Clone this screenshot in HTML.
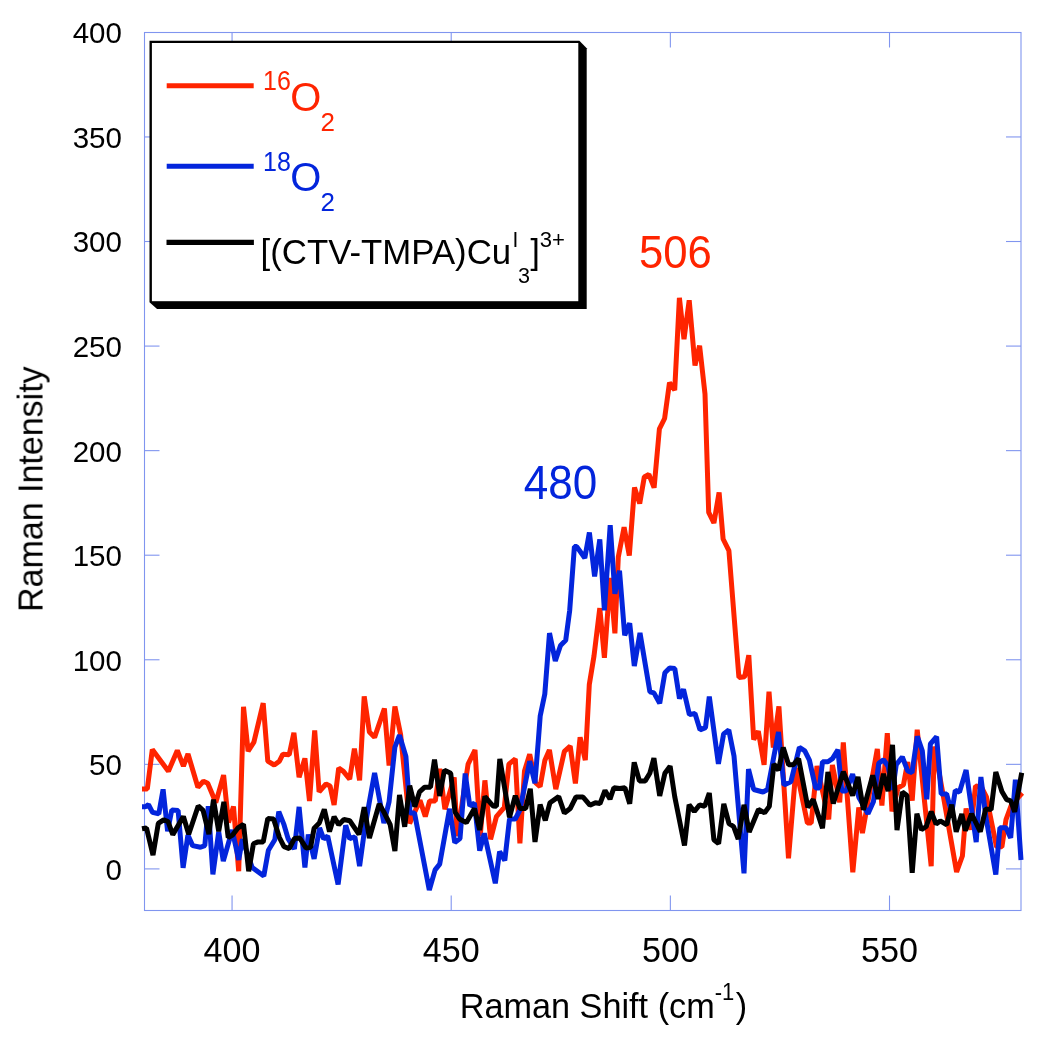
<!DOCTYPE html>
<html><head><meta charset="utf-8"><style>
html,body{margin:0;padding:0;background:#fff;}
svg{display:block;}
text{font-family:"Liberation Sans",sans-serif;will-change:transform;}
</style></head><body>
<svg width="1050" height="1037" viewBox="0 0 1050 1037">
<rect x="0" y="0" width="1050" height="1037" fill="#fff"/>
<g stroke="#8095ef" stroke-width="1.1" fill="none">
<rect x="144.5" y="32.5" width="876.5" height="878.0"/>
<line x1="232.06" y1="910.5" x2="232.06" y2="895.5"/><line x1="232.06" y1="32.5" x2="232.06" y2="47.5"/><line x1="451.21" y1="910.5" x2="451.21" y2="895.5"/><line x1="451.21" y1="32.5" x2="451.21" y2="47.5"/><line x1="670.36" y1="910.5" x2="670.36" y2="895.5"/><line x1="670.36" y1="32.5" x2="670.36" y2="47.5"/><line x1="889.51" y1="910.5" x2="889.51" y2="895.5"/><line x1="889.51" y1="32.5" x2="889.51" y2="47.5"/><line x1="144.5" y1="868.90" x2="159.5" y2="868.90"/><line x1="1021.0" y1="868.90" x2="1006.0" y2="868.90"/><line x1="144.5" y1="764.34" x2="159.5" y2="764.34"/><line x1="1021.0" y1="764.34" x2="1006.0" y2="764.34"/><line x1="144.5" y1="659.77" x2="159.5" y2="659.77"/><line x1="1021.0" y1="659.77" x2="1006.0" y2="659.77"/><line x1="144.5" y1="555.20" x2="159.5" y2="555.20"/><line x1="1021.0" y1="555.20" x2="1006.0" y2="555.20"/><line x1="144.5" y1="450.64" x2="159.5" y2="450.64"/><line x1="1021.0" y1="450.64" x2="1006.0" y2="450.64"/><line x1="144.5" y1="346.08" x2="159.5" y2="346.08"/><line x1="1021.0" y1="346.08" x2="1006.0" y2="346.08"/><line x1="144.5" y1="241.51" x2="159.5" y2="241.51"/><line x1="1021.0" y1="241.51" x2="1006.0" y2="241.51"/><line x1="144.5" y1="136.95" x2="159.5" y2="136.95"/><line x1="1021.0" y1="136.95" x2="1006.0" y2="136.95"/>
</g>
<text transform="translate(121.90,879.80) scale(1,1.03)" font-size="29.5" fill="#000" text-anchor="end">0</text><text transform="translate(121.90,775.24) scale(1,1.03)" font-size="29.5" fill="#000" text-anchor="end">50</text><text transform="translate(121.90,670.67) scale(1,1.03)" font-size="29.5" fill="#000" text-anchor="end">100</text><text transform="translate(121.90,566.10) scale(1,1.03)" font-size="29.5" fill="#000" text-anchor="end">150</text><text transform="translate(121.90,461.54) scale(1,1.03)" font-size="29.5" fill="#000" text-anchor="end">200</text><text transform="translate(121.90,356.98) scale(1,1.03)" font-size="29.5" fill="#000" text-anchor="end">250</text><text transform="translate(121.90,252.41) scale(1,1.03)" font-size="29.5" fill="#000" text-anchor="end">300</text><text transform="translate(121.90,147.85) scale(1,1.03)" font-size="29.5" fill="#000" text-anchor="end">350</text><text transform="translate(121.90,43.28) scale(1,1.03)" font-size="29.5" fill="#000" text-anchor="end">400</text>
<text transform="translate(232.06,961.80) scale(1,1.05)" font-size="34.1" fill="#000" text-anchor="middle">400</text><text transform="translate(451.21,961.80) scale(1,1.05)" font-size="34.1" fill="#000" text-anchor="middle">450</text><text transform="translate(670.36,961.80) scale(1,1.05)" font-size="34.1" fill="#000" text-anchor="middle">500</text><text transform="translate(889.51,961.80) scale(1,1.05)" font-size="34.1" fill="#000" text-anchor="middle">550</text>
<text transform="translate(459.70,1017.90) scale(1,1.05)" font-size="34.25" fill="#000">Raman Shift (cm<tspan font-size="22" dy="-17.3">-1</tspan><tspan dy="17.3" dx="1.4">)</tspan></text><text transform="translate(42.30,611.90) rotate(-90) scale(1,1.055)" font-size="34" fill="#000">Raman Intensity</text><text transform="translate(639.00,267.70) scale(1,1.07)" font-size="43.7" fill="#ff2400">506</text><text transform="translate(523.70,499.30) scale(1,1.07)" font-size="44.1" fill="#0325dc">480</text>
<g fill="none" stroke-width="5" stroke-linejoin="bevel" stroke-linecap="butt">
<polyline stroke="#ff2400" points="142,789 147.3,789 152.3,749.572 168.4,771.328 177.3,750.484 183.4,766.092 188,754.008 197.9,787.283 203.4,781.206 207.7,783.2 215.8,802.569 223.6,775.064 228.5,822.603 233.5,806.397 238.7,871.288 243.5,706.878 248.1,751.245 253.9,742.1 263.2,703.108 267.8,761.2 274.2,765.007 279.4,761.2 282.9,754.189 289.2,754.811 293.9,732.667 299.1,777.229 304.9,758.371 309.5,801.006 314.7,730.496 319.1,791.832 326,784.001 330,785.9 334.1,804.917 338.7,768.128 343.4,771.4 349.7,779.228 354.4,748.56 359.6,780.44 364.2,696.382 369.4,732.1 374.6,737.328 384.4,708.464 389.1,765.537 394.9,706.435 400.6,734.4 409.6,823.365 420,800.235 425.3,816.581 429.6,801 435.3,801 439.7,768.863 444.9,809.222 454.2,777.378 457.1,836.111 468.1,764.1 475,749.986 480.2,836.272 484.9,780.358 490.6,839.331 496.4,816.6 504.3,807.4 508.9,764.1 515.3,758.915 519.9,843.336 524.5,771 529.7,754.319 535.5,782.6 540.1,786.61 544.8,760.6 549.4,749.908 555.8,789.118 564.4,751.3 570.2,746.159 575.4,783.529 580.1,737.357 585.3,760.143 589.3,684.5 594,656 599.8,608.115 604.4,657.747 610.2,577.93 614.9,633.37 618.3,557 624.1,527.323 629.3,555.577 634.5,487.541 639.7,503.459 644.3,477 648.9,474.436 654.1,487.67 659.4,428.9 664.6,418.5 669.5,382.569 674.7,390.031 679.4,297.808 684,339.229 689.2,300.271 695,365.517 699.6,345.683 705,394 708.7,512.4 713.9,522.98 719.1,492.469 723.1,539 728.9,550.6 738.9,677.413 744.7,676.8 748.8,655.109 753.7,739.641 758.3,731.159 764.1,764.936 769,691.708 773.3,747.626 778.9,706.374 788.5,858.283 796,768.026 807.4,823 811.2,823 817,766.075 828.7,819.425 832.4,765.034 839.7,802.366 843.3,742.389 852.8,872.253 858.8,807.413 862.4,833.042 877.3,748.958 881.9,805.581 887.3,733.098 892,811.323 898.1,787.8 903.5,784.8 907.7,761.995 912.2,800.677 917.2,729.764 931.2,866.236 934.3,746.466 943.5,797 956.6,871.966 962.4,856 966.1,808.448 970.8,829.652 975.5,785.945 981.6,787.3 986.4,796.8 996.5,846.8 1001.9,846.8 1006,819.7 1011.4,804.9 1022.2,793"/>
<polyline stroke="#0325dc" points="142,806.8 145.5,806.8 148.5,804.644 152.5,812.3 158.8,813.868 163.1,789.371 167.6,831.271 171.8,809.892 178.1,810.4 183.1,867.896 187.9,835.147 192.6,845.6 200.5,847.25 204.8,845.6 208.3,806.235 212.9,874.325 218.7,831.946 223.3,861.135 232.2,829.965 238.7,859.9 242.4,839.264 252.2,867.5 263.8,876.05 268.4,850.2 274.8,839.8 278.8,811.623 284,824.7 288.1,838.6 294.4,848.998 299.1,806.901 304.9,867.408 308.3,834.471 314.1,858.929 319.6,827.918 323.7,838.933 327.7,835.967 338.1,884.552 345.7,825.315 349.7,838.724 354.9,836.776 359.6,866.174 364.8,828.2 369.4,801.6 374.6,772.891 383.9,823.162 389.1,801.6 394.9,747.1 399.5,735.211 405.9,756.4 410,813 414.5,813 429.3,890.152 435.1,869.9 439.7,864.1 449.6,808.757 454.8,842.526 460,838.6 465.2,773.478 469.8,805.964 474.4,803.136 479.7,850.715 484.3,833.385 495.3,883.322 499.6,851.505 504.8,860.395 509.5,819 515.3,819 519.9,810 529.7,761.18 534.9,783.22 538.4,739.8 540.2,716 544.8,694 549.5,633.078 555.3,661.024 560.5,645.5 565.7,640.3 569.7,610.3 574.4,546.6 576.7,546.6 584.8,557.964 589.4,532.501 594.6,576.511 599.8,539.289 604.4,610.32 610.2,525.182 614.9,593.715 619.5,570.785 624.7,635.326 629.7,623.274 634.3,666.018 640,632.982 649.9,691.8 653.9,692.9 659.7,703.377 664.9,672.7 669.6,667.984 674.8,668.6 679.5,698.532 683.5,689.268 689.4,714.647 695,713.453 700,729.864 705.5,727.6 709.3,696.557 718.4,763.84 723.6,734 728.8,730.074 734,756 744,873.283 748.5,769.176 753.7,789.5 763,791.979 767.6,789.5 778.5,731.881 783.9,785.014 790.9,781.7 799.4,747.468 804.8,750.9 809.4,760.1 815.6,787.9 819.4,787.9 822.5,761.7 827.9,761.7 832.5,758.6 837.9,749.835 841.8,791 846,791 852.6,774.085 858.8,797.2 868,813.818 873.4,801.8 878.8,763.2 883.5,759.687 888.1,766.3 892.7,789.879 896.2,764.8 902.3,756.942 907.7,770.9 912,772.539 917.3,736.41 922.3,750.8 926.8,799.358 930.4,743.9 936.6,736.739 941.2,794 946.6,794 951.7,812.885 955.3,790.354 959.5,792.146 966.1,770.076 976.2,842.134 980.9,777.026 985.7,815.7 995.8,874.462 999.9,827.8 1006,827.8 1010.7,837.922 1015.4,779.614 1021,860"/>
<polyline stroke="#000" points="142,828.8 146.5,827.961 153,855.178 158.3,823.4 163.6,819.866 168,821.5 172.8,834.613 183.4,816.487 188.7,834.245 198.2,805.976 203.1,810.3 208.9,834.06 213.5,799.56 218.7,831.4 223.9,801.9 228.2,837.444 232.6,835.1 237.7,828.2 243.5,824.34 248.7,871.347 253.4,843.8 257.4,842.1 263.2,842.1 267.8,818.391 273.6,818.9 279.4,837.5 284,846.7 289.2,848.524 294.4,838.6 299.7,837.984 306,847.921 310.6,847.3 314.1,828.2 319.3,823 324.3,809.248 329.5,831.618 334.1,816.774 338.7,824.728 343.9,819.448 349.7,820.7 359,834.423 364.2,807.123 369.4,838.053 379.2,803.851 384.4,813.1 390.2,824.7 394.9,851.025 399.5,794.86 404.7,826.74 409.7,785.699 414.8,806.656 419.5,791.9 424.7,787.2 430.5,787.2 434.5,759.699 439.7,796.012 444.4,770.171 450.7,773.3 455,812 459.5,819 466.3,822.664 474.4,808.544 479.7,830.011 484.9,796.504 493,806 496.4,806.204 499.8,758.938 509.5,817.241 515.3,795.75 519.9,808.5 525.7,808.5 530.3,788.826 535,841.925 540.1,804.647 545.3,820.453 550,802.7 558.7,796.591 564.4,813.059 570.2,808.5 576,797 583,797 589.9,805.179 595.4,802.772 600,803.528 605,790.51 610,799.09 613.9,787.787 619.7,788.413 624.9,787.784 629.7,803.699 634.2,762.339 639.4,780.9 645.2,780.9 649.8,773.3 653.9,758.236 659.7,795.891 664.9,773.3 670.1,766.091 674.7,796.5 684.5,845.49 689.1,804.868 694.3,811.532 699.5,804.936 704.7,806.264 709.3,793.022 713.9,839.8 718.6,843.674 723.8,803.794 729,823.6 733.6,826.5 738.2,839.035 744,804.836 749.2,831.98 758.5,809.458 764.6,812.842 769.3,806.4 773.9,764.068 778.5,770.132 783.2,747.622 788.6,764.8 793.2,764.8 798.6,758.668 807.8,807.243 813.2,799.457 822.5,828.164 827.9,771.977 833.3,803.475 843.3,771.716 852.6,795.584 858,777.027 863.4,809.779 872.7,775.321 878.1,799.051 883.5,773.885 888.1,791.215 892.5,744.757 897,830.131 902.3,792.087 907,795.6 912.2,872.787 916.9,813.77 921.4,829.749 926.3,826.5 931.2,811.541 936.1,824.066 940.2,820.936 946.8,824.764 951.7,804.657 956.2,831.799 961.8,814.101 965.4,830.713 971.5,813.734 980.3,831.766 985.7,808.879 991.1,809.621 995.8,772.119 1001.9,791.4 1006.6,799.5 1010.7,800.8 1014.7,811.83 1021.7,772.7"/>
</g>
<polygon points="149.5,40.7 579.4,40.7 586.7,48.2 586.7,309 157.1,309 149.5,302.2" fill="#000"/>
<rect x="151.9" y="43" width="426.4" height="258.2" fill="#fff"/>
<g stroke-width="5.1" stroke-linecap="butt">
<line x1="166.7" y1="85.8" x2="253.7" y2="85.8" stroke="#ff2400"/>
<line x1="166.7" y1="166.3" x2="253.7" y2="166.3" stroke="#0325dc"/>
<line x1="166.5" y1="242.35" x2="253.9" y2="242.35" stroke="#000"/>
</g>
<text transform="translate(263.00,90.50) scale(1,1.09)" font-size="25" fill="#ff2400">16</text><text transform="translate(290.30,110.80) scale(1,1.025)" font-size="40" fill="#ff2400">O</text><text transform="translate(320.60,130.60) scale(1,1.025)" font-size="26" fill="#ff2400">2</text><text transform="translate(263.00,170.90) scale(1,1.09)" font-size="25" fill="#0325dc">18</text><text transform="translate(290.30,191.20) scale(1,1.025)" font-size="40" fill="#0325dc">O</text><text transform="translate(320.60,211.00) scale(1,1.025)" font-size="26" fill="#0325dc">2</text><text transform="translate(260.60,264.00) scale(1,1.025)" font-size="34.8" fill="#000">[(CTV-TMPA)Cu</text><text transform="translate(512.40,247.00) scale(1,1.025)" font-size="20.9" fill="#000">I</text><text transform="translate(517.90,282.60) scale(1,1.025)" font-size="21.6" fill="#000">3</text><text transform="translate(530.30,264.00) scale(1,1.025)" font-size="34.5" fill="#000">]</text><text transform="translate(539.70,247.30) scale(1,1.025)" font-size="22.1" fill="#000">3+</text>
</svg>
</body></html>
